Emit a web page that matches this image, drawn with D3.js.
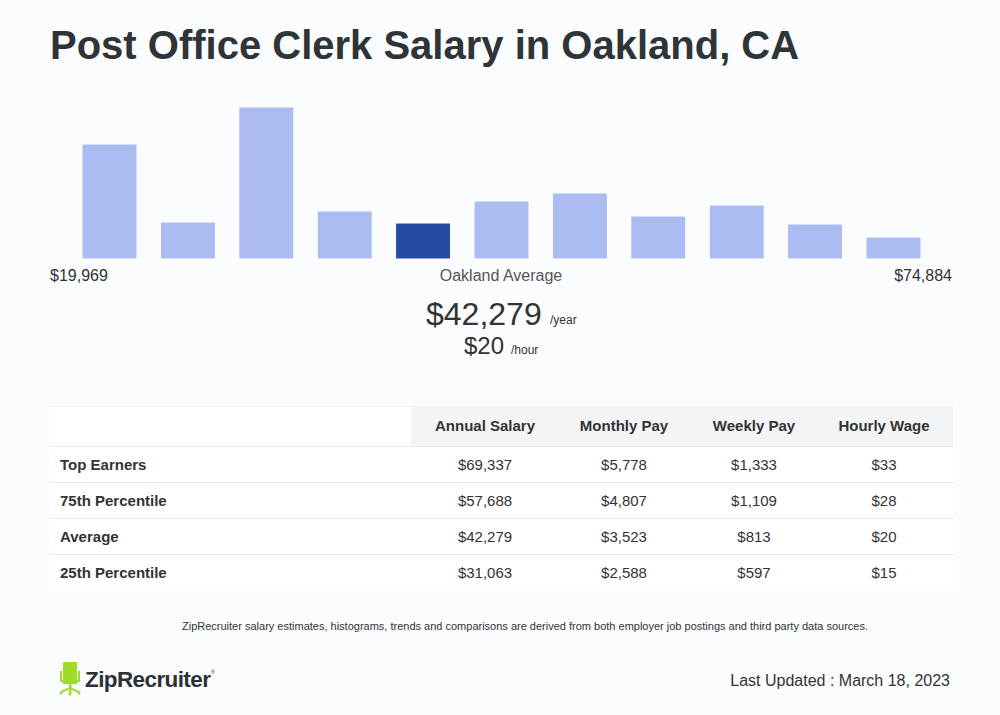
<!DOCTYPE html>
<html><head><meta charset="utf-8">
<script src="https://cdn.jsdelivr.net/npm/d3@7"></script>
<style>
html,body{margin:0;padding:0;background:#fbfcfe;}
svg{display:block;font-family:"Liberation Sans",Arial,sans-serif;}
</style></head>
<body><svg id="c" width="1000" height="715"></svg>
<script>
const binCounts = [115, 37, 152, 48, 36, 58, 66, 43, 54, 35, 22];
const highlightBin = 4;
const minLabel = "$19,969";
const maxLabel = "$74,884";
const avgAnnual = "$42,279";
const avgHourly = "$20";
const tableColumns = ["Annual Salary", "Monthly Pay", "Weekly Pay", "Hourly Wage"];
const rowLabels = ["Top Earners", "75th Percentile", "Average", "25th Percentile"];
const annual = ["$69,337", "$57,688", "$42,279", "$31,063"];
const monthly = ["$5,778", "$4,807", "$3,523", "$2,588"];
const weekly = ["$1,333", "$1,109", "$813", "$597"];
const hourly = ["$33", "$28", "$20", "$15"];

const svg = d3.select("#c");
svg.append("rect").attr("width",1000).attr("height",715).attr("fill","#fbfcfe");

svg.append("text").attr("x",50).attr("y",59).attr("font-size",40).attr("font-weight","bold")
  .attr("fill","#2f3437").text("Post Office Clerk Salary in Oakland, CA");

// histogram
const x = d3.scaleBand().domain(d3.range(binCounts.length)).range([82, 921]).paddingInner(0.2985).paddingOuter(0);
const y = d3.scaleLinear().domain([0, d3.max(binCounts)]).range([259, 107]);
svg.append("g").selectAll("rect").data(binCounts).join("rect")
  .attr("x",(d,i)=>x(i)).attr("y",d=>y(d))
  .attr("width",x.bandwidth()).attr("height",d=>y(0)-y(d))
  .attr("fill",(d,i)=>i===highlightBin?"#264ba3":"#aabcf2")
  .attr("stroke","#ffffff").attr("stroke-width",1);

svg.append("text").attr("x",50).attr("y",281).attr("font-size",16).attr("fill","#333").text(minLabel);
svg.append("text").attr("x",952).attr("y",281).attr("font-size",16).attr("fill","#333").attr("text-anchor","end").text(maxLabel);
svg.append("text").attr("x",501).attr("y",281).attr("font-size",16).attr("fill","#555").attr("text-anchor","middle").text("Oakland Average");

svg.append("text").attr("x",426).attr("y",325).attr("font-size",32).attr("fill","#333").text(avgAnnual);
svg.append("text").attr("x",550).attr("y",324).attr("font-size",12).attr("fill","#333").text("/year");
svg.append("text").attr("x",464).attr("y",354).attr("font-size",24).attr("fill","#333").text(avgHourly);
svg.append("text").attr("x",511).attr("y",354).attr("font-size",12).attr("fill","#333").text("/hour");

// table
const tbl = svg.append("g");
const tx0 = 50, tx1 = 953, headTop = 406, headH = 40, rowH = 36;
const colX = [485, 624, 754, 884];
tbl.append("rect").attr("x",tx0).attr("y",headTop).attr("width",tx1-tx0).attr("height",headH+rowH*rowLabels.length).attr("fill","#ffffff");
tbl.append("rect").attr("x",411).attr("y",headTop).attr("width",tx1-411).attr("height",headH).attr("fill","#f3f4f6");
tbl.append("line").attr("x1",tx0).attr("x2",tx1).attr("y1",headTop+0.5).attr("y2",headTop+0.5).attr("stroke","#f0f1f3");
tbl.selectAll("text.h").data(tableColumns).join("text").attr("class","h")
  .attr("x",(d,i)=>colX[i]).attr("y",headTop+25).attr("text-anchor","middle")
  .attr("font-size",15).attr("font-weight","bold").attr("fill","#333").text(d=>d);
const cols = [annual, monthly, weekly, hourly];
rowLabels.forEach((lab,r)=>{
  const top = headTop+headH+r*rowH;
  tbl.append("line").attr("x1",tx0).attr("x2",tx1).attr("y1",top+0.5).attr("y2",top+0.5).attr("stroke","#e6e8eb");
  tbl.append("text").attr("x",60).attr("y",top+24).attr("font-size",15).attr("font-weight","bold").attr("fill","#333").text(lab);
  cols.forEach((c,i)=>{
    tbl.append("text").attr("x",colX[i]).attr("y",top+24).attr("text-anchor","middle").attr("font-size",15).attr("fill","#333").text(c[r]);
  });
});

svg.append("text").attr("x",525).attr("y",630).attr("text-anchor","middle").attr("font-size",11).attr("fill","#333")
  .text("ZipRecruiter salary estimates, histograms, trends and comparisons are derived from both employer job postings and third party data sources.");

// logo
const green = "#9fdc2a";
const lg = svg.append("g");
lg.append("rect").attr("x",63).attr("y",662).attr("width",14).attr("height",18).attr("rx",1).attr("fill",green);
lg.append("path").attr("d","M61,671 L61,681 L79,681 L79,671").attr("fill","none").attr("stroke",green).attr("stroke-width",2);
lg.append("rect").attr("x",63).attr("y",680).attr("width",14).attr("height",4).attr("fill",green);
lg.append("rect").attr("x",69).attr("y",683).attr("width",2.5).attr("height",10).attr("fill",green);
lg.append("path").attr("d","M61,692 L70,688 L79,692").attr("fill","none").attr("stroke",green).attr("stroke-width",2);
lg.append("circle").attr("cx",61).attr("cy",693).attr("r",1.5).attr("fill",green);
lg.append("circle").attr("cx",79).attr("cy",693).attr("r",1.5).attr("fill",green);
lg.append("circle").attr("cx",70).attr("cy",694).attr("r",1.5).attr("fill",green);
svg.append("text").attr("x",85).attr("y",687).attr("font-size",22.5).attr("font-weight","bold").attr("letter-spacing",-0.6).attr("fill","#2d3035").text("ZipRecruiter");
svg.append("text").attr("x",211).attr("y",674).attr("font-size",5).attr("fill","#2d3035").text("®");

svg.append("text").attr("x",950).attr("y",686).attr("text-anchor","end").attr("font-size",16).attr("fill","#333").text("Last Updated : March 18, 2023");
</script></body></html>
